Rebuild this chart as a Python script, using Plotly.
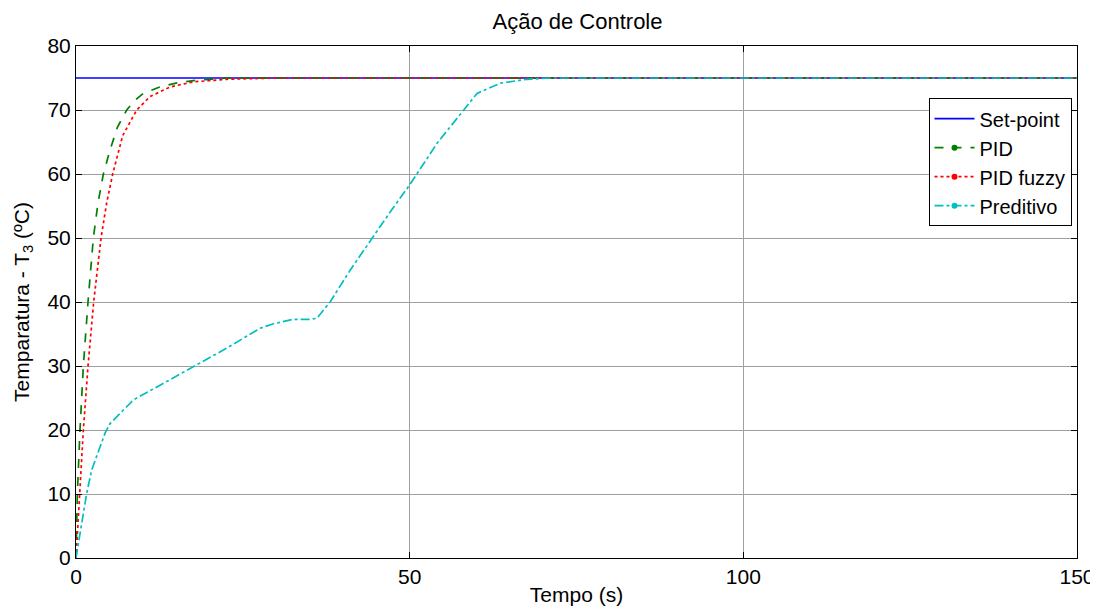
import plotly.graph_objects as go

# ---- data ----
t_set = [0, 150]
y_set = [75, 75]

t_pid = [0, 0.2, 0.6, 1.1, 1.8, 2.6, 3.3, 4.1, 5.1, 6.2, 7.6, 8.8, 10.1, 12.6, 15.0, 17.6, 22.6, 30, 150]
y_pid = [0, 10, 20, 30, 40, 50, 55.5, 60, 63.75, 67.3, 70, 71.5, 72.6, 73.6, 74.2, 74.6, 75, 75, 75]

t_fuzzy = [0, 0.5, 1.1, 1.8, 2.65, 3.75, 4.6, 5.5, 7.0, 9.1, 11.1, 14.1, 17.6, 22.6, 30, 150]
y_fuzzy = [0, 10, 20, 30, 40, 50, 55.5, 60, 66, 70, 72.1, 73.6, 74.4, 74.8, 75, 75]

t_pred = [0, 1.6, 2.35, 4.35, 5.1, 8.6, 12.6, 17.6, 22.6, 27.6, 29.6, 32.6, 35.1, 36.1,
          38.1, 41.1, 44.35, 47.1, 50.0, 51.1, 54.1, 58.1, 60.1, 63.6, 67.6, 71.1, 150]
y_pred = [0, 10.1, 13.75, 19.5, 21, 24.7, 27, 29.9, 32.8, 35.9, 36.6, 37.3, 37.3, 37.45,
          40.05, 45, 49.95, 54.1, 58.3, 60.1, 64.8, 70, 72.6, 74.2, 74.8, 75, 75]

names = ["Set-point", "PID", "PID fuzzy", "Preditivo"]
colors = ["#0000FF", "#008000", "#FF0000", "#00BFBF"]
dashes = ["solid", "dash", "dot", "dashdot"]
series = [(t_set, y_set), (t_pid, y_pid), (t_fuzzy, y_fuzzy), (t_pred, y_pred)]

x_ticks = [0, 50, 100, 150]
y_ticks = [0, 10, 20, 30, 40, 50, 60, 70, 80]

fig = go.Figure()
for name, col, dsh, (tx, ty) in zip(names, colors, dashes, series):
    fig.add_trace(go.Scatter(x=tx, y=ty, mode="lines", name=name,
                             line=dict(color=col, dash=dsh, width=1.7),
                             showlegend=False, hoverinfo="skip"))
for i, (name, col, dsh) in enumerate(zip(names, colors, dashes)):
    fig.add_trace(go.Scatter(x=[None], y=[None], name=name,
                             mode="lines" if i == 0 else "lines+markers",
                             line=dict(color=col, dash=dsh, width=1.7),
                             marker=dict(color=col, size=6, symbol="circle")))

font = "Liberation Sans, Arial, sans-serif"
axis_common = dict(showline=True, linecolor="black", linewidth=1, mirror="ticks",
                   ticks="inside", ticklen=6, tickcolor="black", showgrid=True,
                   gridcolor="#a0a0a0", gridwidth=1, zeroline=False,
                   tickfont=dict(family=font, size=21, color="black"))

W, H = 1090, 602  # page body has an 8px margin
fig.update_layout(
    width=W, height=H,
    paper_bgcolor="white", plot_bgcolor="white",
    margin=dict(l=68, r=21, t=38, b=52, autoexpand=False),
    title=dict(text="Ação de Controle", x=569.5 / W, xanchor="center",
               y=1 - 13 / H, yanchor="middle",
               font=dict(family=font, size=22, color="black")),
    xaxis=dict(range=[0, 150], tickvals=x_ticks,
               title=dict(text="Tempo (s)", standoff=0,
                          font=dict(family=font, size=21, color="black")),
               **axis_common),
    yaxis=dict(range=[0, 80], tickvals=y_ticks,
               title=dict(text="Temparatura - T<sub>3</sub> (ºC)", standoff=12,
                          font=dict(family=font, size=21, color="black")),
               **axis_common),
    legend=dict(x=(1063.5 - 68) / (W - 68 - 21), y=0.898, xanchor="right", yanchor="top",
                bgcolor="white", bordercolor="black", borderwidth=1,
                font=dict(family=font, size=20, color="black"),
                tracegroupgap=0, itemwidth=40),
    showlegend=True,
)

fig.write_html("out.html")
